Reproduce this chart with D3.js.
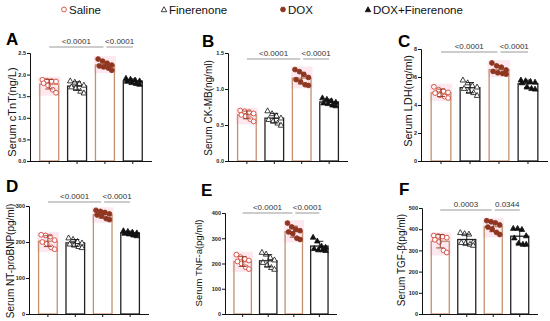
<!DOCTYPE html>
<html>
<head>
<meta charset="utf-8">
<script src="https://cdn.jsdelivr.net/npm/d3@7"></script>
<style>
  body { margin: 0; background: #fff; }
  svg { display: block; font-family: "Liberation Sans", Arial, sans-serif; }
</style>
</head>
<body>
<script>
// groups, shared by all six panels
const groups = ["Saline", "Finerenone", "DOX", "DOX+Finerenone"];

// per-animal values (8 per group)
const cTnT = [
  [1.88, 1.86, 1.85, 1.84, 1.80, 1.75, 1.65, 1.58],
  [1.86, 1.83, 1.80, 1.76, 1.72, 1.70, 1.62, 1.58],
  [2.36, 2.31, 2.26, 2.22, 2.20, 2.18, 2.15, 2.10],
  [1.92, 1.90, 1.88, 1.86, 1.85, 1.82, 1.80, 1.78]
];
const ckMB = [
  [0.70, 0.69, 0.68, 0.66, 0.64, 0.62, 0.58, 0.55],
  [0.70, 0.66, 0.63, 0.60, 0.58, 0.56, 0.53, 0.50],
  [1.27, 1.24, 1.20, 1.16, 1.13, 1.10, 1.06, 1.05],
  [0.88, 0.86, 0.84, 0.82, 0.81, 0.80, 0.78, 0.77]
];
const ldh = [
  [5.3, 5.1, 5.0, 4.9, 4.85, 4.7, 4.6, 4.5],
  [5.8, 5.6, 5.4, 5.3, 5.2, 5.0, 4.9, 4.7],
  [7.0, 6.8, 6.7, 6.5, 6.4, 6.3, 6.25, 6.2],
  [5.8, 5.75, 5.7, 5.65, 5.6, 5.3, 5.2, 5.15]
];
const ntProBNP = [
  [220, 218, 215, 205, 200, 195, 185, 180],
  [212, 208, 202, 198, 195, 192, 188, 185],
  [288, 285, 282, 278, 275, 272, 265, 262],
  [232, 230, 228, 226, 225, 223, 220, 218]
];
const tnfA = [
  [235, 225, 218, 212, 208, 200, 185, 178],
  [245, 238, 225, 215, 205, 195, 185, 178],
  [360, 345, 335, 330, 325, 318, 300, 295],
  [305, 290, 270, 265, 260, 255, 255, 252]
];
const tgfB = [
  [370, 368, 365, 360, 350, 340, 300, 290],
  [385, 380, 378, 340, 338, 335, 330, 325],
  [440, 435, 430, 420, 410, 400, 385, 375],
  [405, 405, 400, 370, 360, 335, 330, 330]
];

// y-axis ticks per panel
const ticksA = [0, 0.5, 1.0, 1.5, 2.0, 2.5];
const ticksB = [0, 0.5, 1.0, 1.5];
const ticksC = [0, 2, 4, 6, 8];
const ticksD = [0, 100, 200, 300];
const ticksE = [0, 100, 200, 300, 400];
const ticksF = [0, 100, 200, 300, 400, 500];

// p values: Saline vs DOX, DOX vs DOX+Finerenone
const pA = ["<0.0001", "<0.0001"];
const pB = ["<0.0001", "<0.0001"];
const pC = ["<0.0001", "<0.0001"];
const pD = ["<0.0001", "<0.0001"];
const pE = ["<0.0001", "<0.0001"];
const pF = ["0.0003", "0.0344"];

const width = 550;
const height = 321;

const tan = "#c4906f";
const red = "#d2473a";
const brown = "#8e3620";

const svg = d3.select("body").append("svg")
  .attr("width", width)
  .attr("height", height);

// legend
const legend = svg.append("g");
const legendItems = [
  { x: 64, label: groups[0] },
  { x: 164, label: groups[1] },
  { x: 283, label: groups[2] },
  { x: 368, label: groups[3] }
];
legendItems.forEach((d, i) => {
  const g = legend.append("g").attr("transform", `translate(${d.x},9.5)`);
  drawMarker(g, i, 0, 0, 2.4);
  g.append("text")
    .attr("x", 5)
    .attr("y", 4)
    .attr("font-size", 11.5)
    .attr("fill", "#111")
    .text(d.label);
});

function drawMarker(g, gi, x, y, r) {
  if (gi === 0 || gi === 2) {
    g.append("circle")
      .attr("cx", x).attr("cy", y).attr("r", r)
      .attr("fill", gi === 0 ? "#fff" : brown)
      .attr("stroke", gi === 0 ? red : brown)
      .attr("stroke-width", 0.9);
  } else {
    const s = r * 1.15;
    g.append("path")
      .attr("d", `M${x},${y - s}L${x + s},${y + s * 0.8}L${x - s},${y + s * 0.8}Z`)
      .attr("fill", gi === 1 ? "#fff" : "#111")
      .attr("stroke", "#111")
      .attr("stroke-width", 0.8);
  }
}

const panels = [
  { letter: "A", label: "Serum cTnT(ng/L)", values: cTnT, ticks: ticksA, fmt: ".1f", p: pA,
    ax: 30, top: 53, bottom: 161, w: 122, lx: 16, ly: 112, lfs: 11, tx: 6, ty: 45, sig: 47 },
  { letter: "B", label: "Serum CK-MB(ng/ml)", values: ckMB, ticks: ticksB, fmt: ".1f", p: pB,
    ax: 228, top: 53, bottom: 161, w: 120, lx: 212, ly: 108, lfs: 10, tx: 202, ty: 47, sig: 59 },
  { letter: "C", label: "Serum LDH(ng/ml)", values: ldh, ticks: ticksC, fmt: "d", p: pC,
    ax: 421, top: 49, bottom: 161, w: 127, lx: 412, ly: 101, lfs: 11, tx: 398, ty: 47, sig: 52 },
  { letter: "D", label: "Serum NT-proBNP(pg/ml)", values: ntProBNP, ticks: ticksD, fmt: "d", p: pD,
    ax: 29, top: 206, bottom: 314, w: 120, lx: 14, ly: 261, lfs: 10, tx: 6, ty: 192, sig: 202 },
  { letter: "E", label: "Serum TNF-a(pg/ml)", values: tnfA, ticks: ticksE, fmt: "d", p: pE,
    ax: 225, top: 213, bottom: 314, w: 112, lx: 202, ly: 263, lfs: 9.5, tx: 201, ty: 196, sig: 213 },
  { letter: "F", label: "Serum TGF-\u03b2(pg/ml)", values: tgfB, ticks: ticksF, fmt: "d", p: pF,
    ax: 422, top: 208, bottom: 314, w: 116, lx: 405, ly: 260, lfs: 10, tx: 399, ty: 195, sig: 210 }
];

// column offsets for the scattered points, in fractions of the bar width
const jitter = [-0.36, -0.12, 0.12, 0.36, -0.3, -0.06, 0.18, 0.36];

panels.forEach((p) => {
  const g = svg.append("g");

  const x = d3.scaleBand()
    .domain(groups)
    .range([p.ax, p.ax + p.w])
    .paddingInner(0.32)
    .paddingOuter(0.35);

  const y = d3.scaleLinear()
    .domain([0, p.ticks[p.ticks.length - 1]])
    .range([p.bottom, p.top]);

  const bw = x.bandwidth();

  groups.forEach((name, gi) => {
    const vals = p.values[gi];
    const mean = d3.mean(vals);
    const sd = d3.deviation(vals);
    const x0 = x(name);
    const cx = x0 + bw / 2;
    const pink = gi === 0 || gi === 2;

    if (pink) {
      g.append("rect")
        .attr("x", x0 - 1.5)
        .attr("y", y(d3.max(vals)) - 3)
        .attr("width", bw + 3)
        .attr("height", y(d3.min(vals)) - y(d3.max(vals)) + 6)
        .attr("fill", "#fbd8e6")
        .attr("opacity", 0.6);
    }

    // bar
    g.append("rect")
      .attr("x", x0)
      .attr("y", y(mean))
      .attr("width", bw)
      .attr("height", y(0) - y(mean))
      .attr("fill", "none")
      .attr("stroke", pink ? tan : "#222")
      .attr("stroke-width", 1.3);

    // points
    vals.forEach((v, i) => {
      drawMarker(g, gi, cx + jitter[i] * bw, y(v), 2.4);
    });

    // error bar (mean ± SD)
    const ec = pink ? brown : "#111";
    g.append("line")
      .attr("x1", cx).attr("x2", cx)
      .attr("y1", y(mean + sd)).attr("y2", y(mean - sd))
      .attr("stroke", ec).attr("stroke-width", 0.9);
    [mean + sd, mean - sd].forEach((e) => {
      g.append("line")
        .attr("x1", cx - 4).attr("x2", cx + 4)
        .attr("y1", y(e)).attr("y2", y(e))
        .attr("stroke", ec).attr("stroke-width", 0.9);
    });
  });

  // y axis
  const yAxis = g.append("g")
    .attr("transform", `translate(${p.ax},0)`)
    .call(d3.axisLeft(y).tickValues(p.ticks).tickFormat(d3.format(p.fmt)).tickSize(3).tickPadding(1));
  yAxis.select(".domain").attr("stroke", "#111").attr("stroke-width", 1);
  yAxis.selectAll(".tick line").attr("stroke", "#111");
  yAxis.selectAll("text")
    .attr("font-size", 5.5)
    .attr("font-weight", "bold")
    .attr("font-family", "Liberation Sans, Arial, sans-serif")
    .attr("fill", "#222");

  // x axis
  const xAxis = g.append("g")
    .attr("transform", `translate(0,${p.bottom})`)
    .call(d3.axisBottom(x).tickSize(3).tickSizeOuter(0).tickFormat(""));
  xAxis.select(".domain")
    .attr("d", `M${p.ax},0.5H${p.ax + p.w}`)
    .attr("stroke", "#111").attr("stroke-width", 1);
  xAxis.selectAll(".tick line").attr("stroke", "#111");

  // y label
  g.append("text")
    .attr("transform", `translate(${p.lx},${p.ly}) rotate(-90)`)
    .attr("text-anchor", "middle")
    .attr("font-size", p.lfs)
    .attr("fill", "#111")
    .text(p.label);

  // panel letter
  g.append("text")
    .attr("x", p.tx)
    .attr("y", p.ty)
    .attr("font-size", 17)
    .attr("font-weight", "bold")
    .attr("fill", "#000")
    .text(p.letter);

  // significance brackets
  const pairs = [[0, 2], [2, 3]];
  pairs.forEach(([a, b], k) => {
    const xa = x(groups[a]) + bw / 2 + (k === 1 ? 1.5 : 0);
    const xb = x(groups[b]) + bw / 2 - (k === 0 ? 1.5 : 0);
    g.append("line")
      .attr("x1", xa).attr("x2", xb)
      .attr("y1", p.sig).attr("y2", p.sig)
      .attr("stroke", "#999").attr("stroke-width", 1);
    g.append("text")
      .attr("x", (xa + xb) / 2)
      .attr("y", p.sig - 3)
      .attr("text-anchor", "middle")
      .attr("font-size", 8)
      .attr("fill", "#333")
      .text(p.p[k]);
  });
});
</script>
</body>
</html>
